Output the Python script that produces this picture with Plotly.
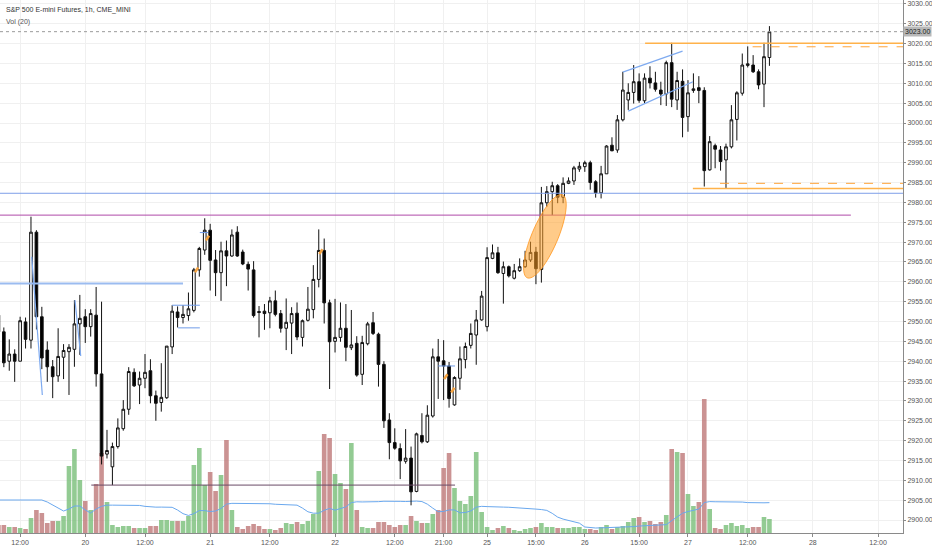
import numpy as np
import pandas as pd
import plotly.graph_objects as go

# ---- hourly bars (index 0..142) ----
opens = [2951.6, 2947.4, 2940.0, 2941.8, 2940.0, 2949.9, 2945.3, 2972.5, 2951.2, 2942.8,
         2938.6, 2936.3, 2941.0, 2942.4, 2943.0, 2949.4, 2951.2, 2948.7, 2951.6, 2936.8,
         2916.6, 2913.4, 2918.5, 2923.0, 2927.9, 2937.2, 2934.0, 2935.7, 2937.6, 2931.3,
         2929.6, 2930.8, 2943.6, 2952.4, 2951.0, 2951.5, 2952.8, 2963.0, 2968.0, 2973.0,
         2965.5, 2962.3, 2967.8, 2966.5, 2972.5, 2967.5, 2964.4, 2963.0, 2952.5, 2952.6,
         2952.2, 2955.2, 2952.0, 2948.3, 2949.6, 2952.1, 2946.0, 2950.3, 2953.0, 2960.6,
         2967.9, 2954.7, 2945.0, 2946.0, 2948.3, 2943.4, 2944.5, 2936.7, 2944.4, 2949.7,
         2946.8, 2939.2, 2925.2, 2919.5, 2918.0, 2914.8, 2915.6, 2907.2, 2921.3, 2919.7,
         2926.2, 2941.1, 2940.1, 2938.8, 2929.0, 2935.7, 2940.4, 2944.0, 2946.6, 2950.4,
         2948.7, 2965.9, 2967.3, 2962.1, 2963.8, 2960.9, 2962.8, 2963.8, 2965.5, 2967.5,
         2963.1, 2979.9, 2982.7, 2984.2, 2981.3, 2984.8, 2985.4, 2988.4, 2989.0, 2990.0,
         2985.2, 2982.4, 2987.2, 2994.4, 2993.2, 3000.8, 3005.8, 3007.7, 3010.4, 3005.6,
         3011.3, 3010.1, 3008.3, 3007.3, 3015.2, 3005.8, 3010.5, 3001.6, 3008.2, 3008.9,
         3008.2, 2988.2, 2994.3, 2993.2, 2990.7, 2994.0, 3000.9, 3007.5, 3014.5, 3014.6,
         3012.9, 3009.8, 3016.5]
highs = [2953.0, 2948.5, 2945.5, 2943.0, 2951.2, 2951.0, 2976.4, 2973.0, 2953.7, 2945.0,
         2940.3, 2948.3, 2944.3, 2944.3, 2955.4, 2956.7, 2953.1, 2953.1, 2958.7, 2955.0,
         2922.7, 2919.5, 2925.6, 2930.2, 2938.5, 2938.2, 2937.4, 2941.8, 2940.5, 2932.6,
         2939.5, 2943.8, 2954.1, 2953.8, 2954.1, 2957.3, 2963.5, 2968.8, 2976.0, 2974.6,
         2968.0, 2970.1, 2970.4, 2973.2, 2974.0, 2968.1, 2965.1, 2965.2, 2953.9, 2954.4,
         2956.2, 2957.8, 2952.9, 2955.8, 2953.6, 2954.8, 2950.5, 2958.7, 2964.2, 2973.2,
         2970.9, 2955.5, 2955.7, 2954.8, 2954.4, 2952.9, 2946.3, 2946.4, 2949.9, 2952.4,
         2947.2, 2940.0, 2926.9, 2923.1, 2919.3, 2922.9, 2918.5, 2922.0, 2926.9, 2928.9,
         2943.2, 2945.6, 2945.3, 2939.8, 2936.2, 2943.7, 2944.7, 2949.5, 2952.9, 2957.7,
         2968.7, 2969.4, 2968.8, 2965.1, 2964.1, 2964.5, 2965.9, 2967.8, 2970.1, 2968.8,
         2983.9, 2984.1, 2985.2, 2984.6, 2986.3, 2986.3, 2989.2, 2990.2, 2990.5, 2990.5,
         2985.6, 2989.2, 2994.4, 2996.4, 3002.0, 3012.9, 3010.0, 3014.6, 3012.5, 3012.5,
         3014.3, 3012.9, 3010.4, 3015.7, 3020.2, 3012.9, 3013.5, 3010.8, 3012.5, 3011.8,
         3009.0, 2996.7, 2994.8, 2994.2, 2994.8, 3004.5, 3008.0, 3017.5, 3019.3, 3017.1,
         3013.5, 3020.2, 3024.4]
lows = [2946.0, 2938.5, 2937.6, 2934.8, 2940.0, 2943.2, 2943.2, 2948.0, 2938.0, 2934.8,
        2930.7, 2934.8, 2935.5, 2931.5, 2938.6, 2941.6, 2944.6, 2946.2, 2933.6, 2914.0,
        2915.5, 2908.8, 2918.0, 2922.5, 2926.5, 2933.5, 2929.2, 2933.2, 2929.4, 2925.0,
        2927.3, 2930.5, 2941.8, 2948.5, 2949.5, 2950.2, 2952.3, 2961.3, 2966.8, 2957.8,
        2956.4, 2955.2, 2958.9, 2966.3, 2966.3, 2964.2, 2957.8, 2951.0, 2946.0, 2947.9,
        2948.3, 2951.3, 2947.2, 2942.8, 2941.8, 2945.3, 2943.7, 2950.0, 2950.8, 2958.6,
        2949.5, 2933.0, 2942.2, 2944.9, 2940.0, 2942.8, 2936.1, 2934.0, 2944.0, 2946.6,
        2933.6, 2923.2, 2915.3, 2917.7, 2910.3, 2914.2, 2903.7, 2907.0, 2919.3, 2919.4,
        2925.8, 2930.5, 2930.2, 2928.3, 2928.8, 2932.8, 2938.2, 2943.2, 2939.1, 2950.2,
        2947.5, 2965.7, 2962.0, 2954.5, 2961.1, 2960.6, 2962.5, 2963.5, 2965.0, 2959.4,
        2959.8, 2978.9, 2976.8, 2979.8, 2979.8, 2984.6, 2984.4, 2987.7, 2987.7, 2983.2,
        2981.2, 2981.0, 2987.2, 2992.9, 2992.5, 3000.4, 3003.3, 3004.9, 3005.1, 3005.0,
        3008.7, 3007.9, 3004.5, 3004.3, 3004.0, 3003.3, 2996.4, 2997.8, 3007.6, 3005.0,
        2984.0, 2988.0, 2988.6, 2988.0, 2983.6, 2993.6, 2995.6, 3006.9, 3014.0, 3012.6,
        3008.5, 3004.0, 3014.4]
closes = [2947.4, 2939.6, 2941.8, 2940.0, 2950.2, 2945.5, 2972.5, 2951.2, 2940.8, 2938.6,
          2936.1, 2941.2, 2942.7, 2943.5, 2949.4, 2950.8, 2948.7, 2952.0, 2936.8, 2916.1,
          2917.5, 2918.5, 2923.2, 2927.9, 2937.4, 2933.8, 2935.7, 2937.2, 2931.3, 2929.4,
          2930.9, 2943.8, 2952.6, 2951.0, 2951.8, 2953.2, 2963.0, 2968.4, 2973.0, 2965.4,
          2962.3, 2967.8, 2966.5, 2971.8, 2966.5, 2964.5, 2963.2, 2951.5, 2952.3, 2952.0,
          2955.2, 2951.8, 2948.3, 2949.8, 2952.0, 2946.1, 2950.2, 2953.1, 2960.6, 2967.9,
          2954.7, 2944.9, 2946.0, 2948.3, 2943.5, 2944.1, 2936.5, 2944.7, 2949.4, 2947.0,
          2939.2, 2925.0, 2919.5, 2918.1, 2914.9, 2915.6, 2907.1, 2921.7, 2919.7, 2926.4,
          2941.1, 2940.0, 2938.8, 2930.6, 2935.9, 2940.6, 2943.7, 2947.0, 2950.4, 2956.4,
          2966.1, 2967.3, 2962.3, 2963.8, 2961.5, 2962.8, 2963.8, 2965.5, 2967.4, 2963.3,
          2979.9, 2982.7, 2984.2, 2981.3, 2984.8, 2985.4, 2988.7, 2989.1, 2990.0, 2985.0,
          2982.4, 2987.2, 2994.2, 2993.0, 3000.8, 3008.3, 3007.7, 3010.4, 3005.7, 3011.3,
          3010.1, 3008.5, 3007.3, 3015.2, 3006.0, 3010.7, 3001.4, 3007.6, 3008.6, 3008.2,
          2988.0, 2995.3, 2993.4, 2990.3, 2994.0, 3000.8, 3007.6, 3014.6, 3014.9, 3012.9,
          3009.6, 3016.7, 3023.0]
# volume, thousands of contracts
volumes = [8, 8, 6, 6, 5, 4, 15, 23, 20, 10, 12, 12, 17, 67, 84, 53, 32, 23, 49, 80,
           31, 8, 6, 7, 7, 5, 5, 5, 7, 7, 13, 13, 12, 12, 12, 17, 68, 85, 48, 61,
           42, 58, 93, 23, 6, 4, 7, 9, 7, 4, 4, 3, 5, 10, 9, 11, 9, 12, 19, 62,
           99, 95, 59, 50, 44, 90, 23, 6, 5, 5, 11, 11, 8, 6, 8, 8, 17, 12, 10, 10,
           19, 23, 65, 80, 45, 32, 29, 37, 81, 21, 6, 3, 5, 7, 5, 3, 2, 4, 5, 6,
           10, 6, 6, 5, 5, 5, 6, 6, 4, 4, 3, 6, 8, 4, 6, 7, 11, 15, 16, 11,
           12, 9, 11, 18, 84, 81, 80, 39, 27, 31, 134, 24, 5, 4, 8, 10, 7, 8, 5, 6,
           6, 16, 14]
# Vol(20) average for the first bars (history before the window)
vol_ma_head = [33, 33, 33, 33, 33, 33, 33, 33, 33, 31, 28, 25, 22, 24, 27, 27, 23, 20, 24]

tick_bars = [4, 16, 27, 39, 50, 62, 73, 82, 90, 99, 108, 118, 127, 138, 150, 162]
tick_text = ["12:00", "20", "12:00", "21", "12:00", "22", "12:00", "21:00",
             "25", "15:00", "26", "15:00", "27", "12:00", "28", "12:00"]

# horizontal levels: (price, from bar, to bar or None=edge, colour, dash, width)
levels = [
    (3023.0, None, None, "#9a9a9a", "dot", 1),
    (3020.1, 119.1, None, "#ffb24a", "solid", 1.5),
    (3019.2, 138.9, None, "#ffa43a", "dash", 1),
    (2984.8, 132.9, None, "#ffa43a", "dash", 1),
    (2983.5, 127.9, None, "#ffb24a", "solid", 1.5),
    (2982.3, None, None, "#7e9ee8", "solid", 1),
    (2976.8, None, 157.0, "#b04aa8", "solid", 1),
    (2959.6, None, 34.0, "#9bbcf0", "solid", 2),
    (2908.8, 17.1, 84.1, "#6a4a66", "solid", 1),
    (2954.1, 32.0, 37.1, "#6f9be8", "solid", 1),
    (2948.4, 33.1, 37.1, "#6f9be8", "solid", 1),
    (2972.4, 37.1, 38.6, "#6f9be8", "solid", 1),
    (2938.8, 81.0, 84.1, "#6f9be8", "solid", 1),
]
# trend lines: (bar0, price0, bar1, price1)
trend_lines = [
    (6.13, 2966.3, 8.09, 2931.5),
    (14.1, 2955.4, 15.16, 2941.3),
    (115.0, 3012.8, 126.0, 3018.1),
    (116.0, 3003.0, 127.9, 3010.4),
]
# small orange marks on candles: (bar, price)
marks = [(36.5, 2963.0), (38.5, 2971.0), (59.4, 2967.6), (82.4, 2936.1), (83.7, 2932.7)]
# highlighted ellipse: two ends of the long axis (bar, price) and half-width in px
ellipse_ends = [(97.4, 2961.0), (103.9, 2981.9)]
ellipse_halfwidth_px = 13

X_MIN, X_MAX = 0.295, 166.6
P_MIN, P_MAX = 2896.73, 3030.98
PX_PER_BAR = 5.429
PX_PER_PT = 3.97

bars = np.arange(len(closes))
vol = pd.Series(volumes, dtype=float)
vol_ma = vol.rolling(20).mean()
vol_ma.iloc[:len(vol_ma_head)] = vol_ma_head

vol_colors = ["rgba(120,190,120,0.8)" if c >= o else "rgba(190,120,120,0.8)"
              for o, c in zip(opens, closes)]

fig = go.Figure()
fig.add_trace(go.Bar(x=bars, y=volumes, marker_color=vol_colors, marker_line_width=0,
                     yaxis="y", showlegend=False))
fig.add_trace(go.Scatter(x=bars, y=vol_ma, mode="lines", line=dict(color="#6aa8ee", width=1),
                         yaxis="y", showlegend=False))
fig.add_trace(go.Candlestick(x=bars, open=opens, high=highs, low=lows, close=closes,
                             yaxis="y2", showlegend=False,
                             increasing=dict(fillcolor="white", line=dict(color="#111", width=1)),
                             decreasing=dict(fillcolor="black", line=dict(color="#111", width=1))))

shapes = []
for p, b0, b1, col, dash, w in levels:
    shapes.append(dict(type="line", xref="x", yref="y2",
                       x0=X_MIN if b0 is None else b0, x1=X_MAX if b1 is None else b1,
                       y0=p, y1=p, line=dict(color=col, width=w, dash=dash)))
for b0, p0, b1, p1 in trend_lines:
    shapes.append(dict(type="line", xref="x", yref="y2", x0=b0, y0=p0, x1=b1, y1=p1,
                       line=dict(color="#7eaaf0", width=1.2)))
for b, p in marks:
    shapes.append(dict(type="line", xref="x", yref="y2", x0=b - 0.3, y0=p - 0.6,
                       x1=b + 0.3, y1=p + 0.6, line=dict(color="#f5a340", width=2.5)))

# ellipse built in pixel space, then mapped back to bars / price
(b0, p0), (b1, p1) = ellipse_ends
ax0, ay0 = b0 * PX_PER_BAR, p0 * PX_PER_PT
ax1, ay1 = b1 * PX_PER_BAR, p1 * PX_PER_PT
cx, cy = (ax0 + ax1) / 2, (ay0 + ay1) / 2
semi = np.hypot(ax1 - ax0, ay1 - ay0) / 2
ang = np.arctan2(ay1 - ay0, ax1 - ax0)
t = np.linspace(0, 2 * np.pi, 60)
ex = cx + semi * np.cos(t) * np.cos(ang) - ellipse_halfwidth_px * np.sin(t) * np.sin(ang)
ey = cy + semi * np.cos(t) * np.sin(ang) + ellipse_halfwidth_px * np.sin(t) * np.cos(ang)
path = "M " + " L ".join(f"{x / PX_PER_BAR:.3f},{y / PX_PER_PT:.3f}" for x, y in zip(ex, ey)) + " Z"
shapes.append(dict(type="path", xref="x", yref="y2", path=path, layer="above",
                   fillcolor="rgba(255,160,40,0.55)", line=dict(color="rgba(255,150,30,0.8)", width=1)))

fig.update_layout(
    width=932, height=550,
    margin=dict(l=0, r=29, t=0, b=17, autoexpand=False),
    paper_bgcolor="white", plot_bgcolor="white",
    font=dict(family="Liberation Sans, Arial, sans-serif", size=7, color="#555"),
    bargap=0.15,
    xaxis=dict(range=[X_MIN, X_MAX], tickvals=tick_bars, ticktext=tick_text,
               showgrid=True, gridcolor="#f0f0f0", zeroline=False, automargin=False,
               showline=True, linecolor="#8a8a8a", ticks="outside", ticklen=3,
               tickcolor="#8a8a8a", tickfont=dict(size=7, color="#555"),
               rangeslider=dict(visible=False), fixedrange=True),
    yaxis=dict(range=[0, 533], visible=False, fixedrange=True),
    yaxis2=dict(range=[P_MIN, P_MAX], overlaying="y", side="right", dtick=5, tick0=2900,
                tickformat=".2f", showgrid=True, gridcolor="#f0f0f0", zeroline=False,
                automargin=False, showline=True, linecolor="#8a8a8a", ticks="outside",
                ticklen=2, tickcolor="#8a8a8a", tickfont=dict(size=7, color="#555"),
                fixedrange=True),
    shapes=shapes,
    annotations=[
        dict(text="S&P 500 E-mini Futures, 1h, CME_MINI", xref="paper", yref="paper",
             x=0.004, y=0.981, xanchor="left", yanchor="middle", showarrow=False,
             font=dict(size=7, color="#333")),
        dict(text="Vol (20)", xref="paper", yref="paper", x=0.004, y=0.958,
             xanchor="left", yanchor="middle", showarrow=False, font=dict(size=7, color="#555")),
        dict(text="3023.00", xref="paper", yref="y2", x=1.0, y=closes[-1], xanchor="left",
             yanchor="middle", showarrow=False, bgcolor="#b8b8b8", borderpad=1,
             font=dict(size=7, color="#222")),
    ],
)

fig.write_html("out.html", config={"displayModeBar": False},
               post_script="document.body.style.margin = '0px';")
